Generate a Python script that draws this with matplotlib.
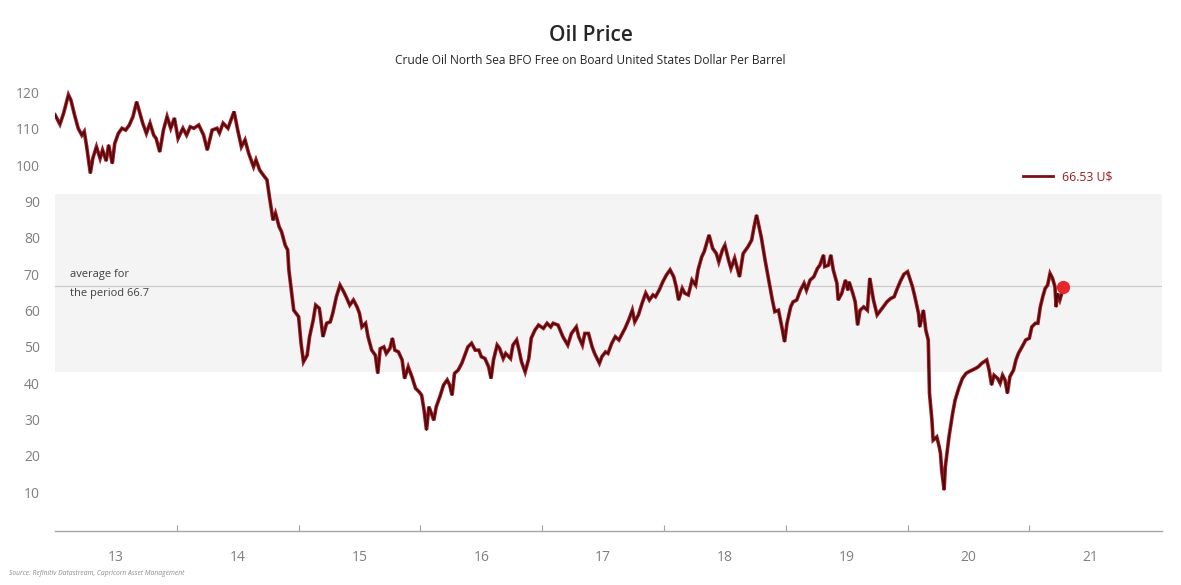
import numpy as np
import matplotlib.pyplot as plt

# Brent crude, USD per barrel, dates as decimal years
dates = [2013.00, 2013.04, 2013.07, 2013.11, 2013.13, 2013.16, 2013.19, 2013.22, 2013.24, 2013.26,
         2013.29, 2013.31, 2013.34, 2013.37, 2013.39, 2013.42, 2013.44, 2013.47, 2013.49, 2013.52,
         2013.55, 2013.58, 2013.61, 2013.64, 2013.67, 2013.70, 2013.72, 2013.75, 2013.78, 2013.81,
         2013.83, 2013.86, 2013.89, 2013.92, 2013.95, 2013.98,
         2014.01, 2014.05, 2014.08, 2014.11, 2014.14, 2014.18, 2014.22, 2014.25, 2014.29, 2014.33,
         2014.35, 2014.38, 2014.42, 2014.47, 2014.50, 2014.53, 2014.56, 2014.59, 2014.63, 2014.65,
         2014.68, 2014.71, 2014.74, 2014.76, 2014.79, 2014.81, 2014.84, 2014.86, 2014.89, 2014.91,
         2014.92, 2014.94, 2014.96,
         2015.00, 2015.02, 2015.04, 2015.07, 2015.09, 2015.12, 2015.14, 2015.17, 2015.18, 2015.20,
         2015.23, 2015.26, 2015.28, 2015.31, 2015.34, 2015.37, 2015.39, 2015.42, 2015.45, 2015.48,
         2015.50, 2015.52, 2015.55, 2015.57, 2015.60, 2015.63, 2015.65, 2015.67, 2015.70, 2015.72,
         2015.75, 2015.77, 2015.79, 2015.82, 2015.85, 2015.87, 2015.90, 2015.93, 2015.96, 2015.99,
         2016.01, 2016.03, 2016.05, 2016.07, 2016.09, 2016.11, 2016.13, 2016.16, 2016.19, 2016.22,
         2016.24, 2016.26, 2016.28, 2016.31, 2016.34, 2016.37, 2016.39, 2016.42, 2016.45, 2016.48,
         2016.50, 2016.53, 2016.56, 2016.58, 2016.60, 2016.63, 2016.65, 2016.68, 2016.70, 2016.74,
         2016.76, 2016.79, 2016.81, 2016.83, 2016.86, 2016.89, 2016.91, 2016.94, 2016.97,
         2017.01, 2017.04, 2017.07, 2017.09, 2017.13, 2017.17, 2017.21, 2017.24, 2017.28, 2017.30,
         2017.33, 2017.35, 2017.38, 2017.41, 2017.43, 2017.47, 2017.49, 2017.52, 2017.54, 2017.57,
         2017.60, 2017.63, 2017.65, 2017.68, 2017.71, 2017.74, 2017.76, 2017.79, 2017.82, 2017.85,
         2017.88, 2017.91, 2017.93, 2017.96, 2017.99,
         2018.02, 2018.05, 2018.08, 2018.10, 2018.12, 2018.15, 2018.17, 2018.20, 2018.23, 2018.26,
         2018.28, 2018.31, 2018.33, 2018.35, 2018.37, 2018.40, 2018.43, 2018.45, 2018.48, 2018.50,
         2018.53, 2018.55, 2018.58, 2018.62, 2018.65, 2018.69, 2018.72, 2018.74, 2018.76, 2018.80,
         2018.83, 2018.86, 2018.89, 2018.91, 2018.94, 2018.97, 2018.99,
         2019.01, 2019.04, 2019.06, 2019.09, 2019.12, 2019.15, 2019.17, 2019.20, 2019.23, 2019.26,
         2019.28, 2019.31, 2019.32, 2019.35, 2019.37, 2019.39, 2019.42, 2019.43, 2019.46, 2019.49,
         2019.51, 2019.52, 2019.55, 2019.57, 2019.59, 2019.61, 2019.64, 2019.67, 2019.69, 2019.72,
         2019.75, 2019.78, 2019.80, 2019.83, 2019.86, 2019.89, 2019.91, 2019.94, 2019.97,
         2020.00, 2020.04, 2020.06, 2020.09, 2020.10, 2020.13, 2020.15, 2020.17, 2020.18, 2020.20,
         2020.21, 2020.24, 2020.26, 2020.27, 2020.28, 2020.30, 2020.31, 2020.34, 2020.37, 2020.39,
         2020.42, 2020.45, 2020.48, 2020.50, 2020.53, 2020.56, 2020.58, 2020.61, 2020.65, 2020.67,
         2020.69, 2020.71, 2020.74, 2020.76, 2020.78, 2020.80, 2020.82, 2020.84, 2020.87, 2020.89,
         2020.91, 2020.94, 2020.97,
         2021.00, 2021.02, 2021.05, 2021.07, 2021.09, 2021.11, 2021.13, 2021.15, 2021.17, 2021.19,
         2021.21, 2021.22, 2021.23, 2021.25, 2021.27]
prices = [113.9, 111.3, 114.3, 119.4, 118.0, 113.9, 110.2, 108.3, 109.3, 105.1,
          97.8, 101.9, 105.1, 101.9, 104.2, 101.2, 105.6, 100.5, 106.0, 108.8,
          110.2, 109.7, 111.1, 113.4, 117.5, 113.9, 111.6, 108.8, 111.6, 108.3,
          107.4, 103.7, 109.7, 113.4, 110.2, 113.0,
          107.4, 110.2, 108.3, 110.6, 110.2, 111.1, 108.3, 104.2, 109.7, 110.2,
          108.9, 111.6, 110.2, 114.8, 109.7, 105.1, 107.0, 103.3, 99.6, 101.5,
          98.7, 97.3, 96.0, 91.4, 84.9, 86.8, 83.1, 81.7, 78.0, 76.7,
          71.2, 65.6, 60.1,
          58.3, 51.0, 45.9, 47.7, 52.8, 57.4, 61.5, 60.6, 58.3, 52.8,
          56.5, 56.9, 59.2, 63.8, 67.0, 65.2, 63.8, 61.5, 62.9, 61.0,
          59.2, 55.5, 56.5, 52.8, 49.1, 47.7, 42.7, 49.5, 50.0, 48.2,
          49.6, 52.4, 49.1, 48.6, 46.4, 41.3, 44.5, 41.8, 38.6, 37.6,
          36.7, 32.6, 27.1, 33.5, 31.7, 29.8, 33.5, 36.3, 39.5, 40.9,
          39.5, 36.7, 42.7, 43.6, 45.5, 48.2, 50.0, 51.0, 49.1, 49.1,
          47.3, 46.8, 44.5, 41.3, 46.4, 50.5, 49.6, 46.8, 48.2, 46.8,
          50.5, 51.9, 49.1, 45.9, 43.1, 46.8, 52.4, 54.6, 56.0,
          55.1, 56.5, 55.5, 56.5, 56.0, 52.8, 50.5, 53.7, 55.5, 52.8,
          50.5, 53.7, 53.7, 50.0, 48.2, 45.5, 47.3, 48.6, 48.2, 50.9,
          52.8, 51.9, 53.2, 55.1, 57.4, 60.1, 56.9, 58.8, 62.0, 64.8,
          62.9, 64.3, 63.8, 65.6, 67.9,
          69.8, 71.2, 69.3, 66.6, 62.9, 66.1, 64.8, 64.3, 68.4, 67.0,
          71.2, 74.8, 76.2, 78.5, 80.8, 77.1, 75.7, 73.4, 76.7, 78.0,
          73.9, 71.6, 74.4, 69.3, 75.7, 77.6, 79.4, 83.1, 86.3, 80.0,
          73.9, 68.4, 62.9, 59.7, 60.1, 55.1, 51.4,
          56.5, 61.0, 62.4, 62.9, 65.6, 67.5, 65.6, 68.4, 69.3, 71.6,
          72.5, 75.3, 72.1, 72.5, 75.3, 71.2, 67.5, 62.9, 64.8, 68.4,
          65.6, 67.9, 64.8, 62.4, 56.0, 60.1, 61.0, 60.1, 68.9, 62.9,
          58.8, 60.1, 61.0, 62.4, 63.3, 63.8, 65.6, 68.0, 70.0,
          70.7, 66.6, 63.8, 59.2, 55.5, 60.1, 54.6, 51.9, 37.2, 29.8,
          24.3, 25.2, 22.5, 20.7, 16.1, 10.6, 17.0, 25.2, 31.7, 35.3,
          38.6, 41.3, 42.7, 43.1, 43.6, 44.1, 44.5, 45.5, 46.4, 43.6,
          39.5, 42.2, 41.3, 40.0, 42.2, 40.9, 37.2, 41.8, 43.6, 46.4,
          48.2, 50.0, 51.9,
          52.4, 55.5, 56.5, 56.5, 61.0, 63.8, 66.1, 67.0, 70.2, 68.9,
          66.6, 61.0, 64.7, 62.9, 65.2]

last_date = 2021.28
last_price = 66.53
average = 66.7
band_low, band_high = 43, 92

year_labels = ['13', '14', '15', '16', '17', '18', '19', '20', '21']
year_starts = [2014, 2015, 2016, 2017, 2018, 2019, 2020, 2021]

grey = '#7f7f7f'
plt.rcParams['font.family'] = ['Open Sans', 'DejaVu Sans']

fig = plt.figure(figsize=(11.81, 5.85), dpi=100)
ax = fig.add_axes([0.0466, 0.0923, 0.9374, 0.7617])

ax.axhspan(band_low, band_high, color='#f4f4f4', lw=0, zorder=0)
ax.axhline(average, color='#cccccc', lw=0.9, zorder=1)
# red halo plus dark core, like the original rendering
ax.plot(dates, prices, color='#a01c22', lw=2.6, zorder=3, solid_joinstyle='miter')
ax.plot(dates, prices, color='#4a070b', lw=1.1, zorder=3)
ax.plot([], [], color='#7d1015', lw=2.0, label='66.53 U$')
ax.plot([last_date], [last_price], 'o', color='#e5262b', ms=8.5, zorder=4)

ax.text(2013.12, 70.0, 'average for', fontsize=8, color='#404040', va='center')
ax.text(2013.12, 64.8, 'the period 66.7', fontsize=8, color='#404040', va='center')

ax.set_xlim(2013.0, 2022.09)
ax.set_ylim(-0.7, 122)
ax.set_yticks(np.arange(10, 121, 10))
ax.tick_params(axis='y', length=0, pad=11, labelsize=10, labelcolor=grey)

ax.set_xticks(year_starts)
ax.set_xticklabels([])
ax.set_xticks([y + 0.5 for y in range(2013, 2022)], minor=True)
ax.set_xticklabels(year_labels, minor=True)
ax.tick_params(axis='x', which='major', direction='in', length=4, color='#a0a0a0')
ax.tick_params(axis='x', which='minor', length=0, pad=14, labelsize=10, labelcolor=grey)

for s in ['left', 'right', 'top']:
    ax.spines[s].set_visible(False)
ax.spines['bottom'].set_color('#a6a6a6')
ax.spines['bottom'].set_linewidth(1.0)

leg = ax.legend(loc='center left', bbox_to_anchor=(0.874, 0.795), frameon=False,
                fontsize=8.8, handlelength=2.5, handletextpad=0.7,
                borderpad=0, borderaxespad=0)
for t in leg.get_texts():
    t.set_color('#9b1b22')

fig.text(0.5, 0.94, 'Oil Price', ha='center', va='center', fontsize=15,
         fontweight='semibold', color='#262626')
fig.text(0.5, 0.897, 'Crude Oil North Sea BFO Free on Board United States Dollar Per Barrel',
         ha='center', va='center', fontsize=8.6, color='#262626')
fig.text(0.008, 0.017, 'Source: Refinitiv Datastream, Capricorn Asset Management',
         fontsize=4.9, style='italic', color='#8c8c8c')

plt.savefig('out.png', dpi=100)
